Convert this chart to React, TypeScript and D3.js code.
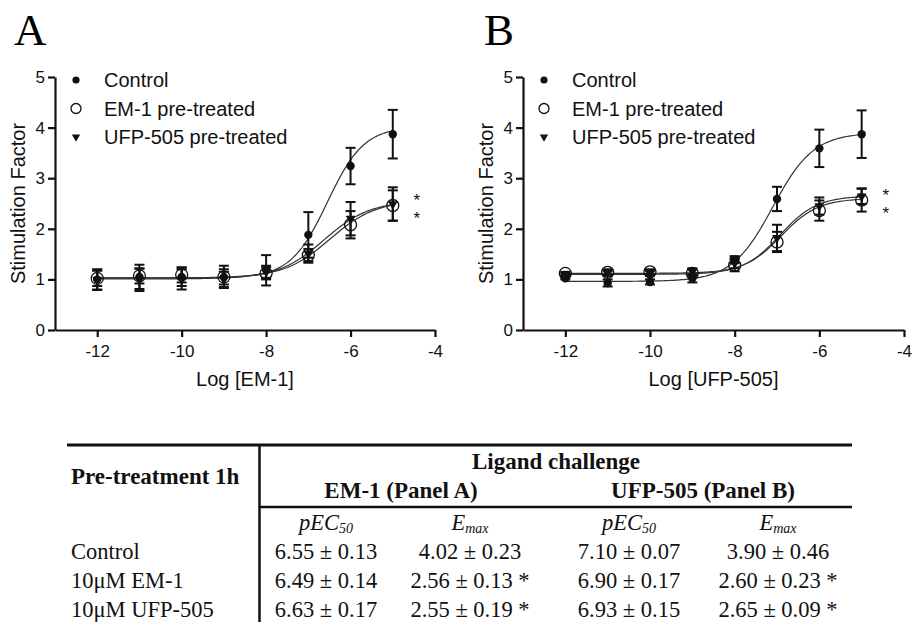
import React, { useRef, useEffect } from 'react';
import * as d3 from 'd3';

const doses = [-12, -11, -10, -9, -8, -7, -6, -5];
const seriesNames = ['Control', 'EM-1 pre-treated', 'UFP-505 pre-treated'];

// Panel A - EM-1 challenge
const aControl = [1.0, 1.05, 1.05, 1.05, 1.18, 1.88, 3.24, 3.87];
const aControlErr = [0.2, 0.24, 0.18, 0.22, 0.3, 0.45, 0.36, 0.48];
const aEm1 = [1.02, 1.07, 1.09, 1.05, 1.12, 1.48, 2.08, 2.46];
const aEm1Err = [0.15, 0.15, 0.15, 0.15, 0.12, 0.12, 0.27, 0.3];
const aUfp = [0.99, 0.99, 1.0, 1.0, 1.15, 1.51, 2.2, 2.49];
const aUfpErr = [0.2, 0.22, 0.2, 0.15, 0.12, 0.18, 0.33, 0.33];
// fitted sigmoid params: control, EM-1, UFP-505
const aBottom = [1.03, 1.03, 1.01];
const aTop = [4.02, 2.56, 2.55];
const aLogEC50 = [-6.55, -6.49, -6.63];
const aHill = [1, 0.8, 0.8];
const aStars = [2.65, 2.29];

// Panel B - UFP-505 challenge
const bControl = [1.02, 0.93, 0.95, 1.02, 1.39, 2.59, 3.59, 3.87];
const bControlErr = [0.02, 0.07, 0.05, 0.08, 0.07, 0.24, 0.37, 0.47];
const bEm1 = [1.12, 1.14, 1.15, 1.12, 1.28, 1.74, 2.36, 2.57];
const bEm1Err = [0.03, 0.06, 0.05, 0.08, 0.12, 0.2, 0.2, 0.23];
const bUfp = [1.1, 1.12, 1.12, 1.15, 1.32, 1.82, 2.45, 2.64];
const bUfpErr = [0.03, 0.05, 0.05, 0.07, 0.1, 0.26, 0.17, 0.15];
const bBottom = [0.96, 1.12, 1.1];
const bTop = [3.9, 2.6, 2.65];
const bLogEC50 = [-7.1, -6.9, -6.93];
const bHill = [0.9, 1, 1];
const bStars = [2.75, 2.4];

const yTicks = [0, 1, 2, 3, 4, 5];
const xTicks = [-12, -10, -8, -6, -4];

// table
const tableRowLabels = ['Control', '10μM EM-1', '10μM UFP-505'];
const pec50A = ['6.55 ± 0.13', '6.49 ± 0.14', '6.63 ± 0.17'];
const emaxA = ['4.02 ± 0.23', '2.56 ± 0.13 *', '2.55 ± 0.19 *'];
const pec50B = ['7.10 ± 0.07', '6.90 ± 0.17', '6.93 ± 0.15'];
const emaxB = ['3.90 ± 0.46', '2.60 ± 0.23 *', '2.65 ± 0.09 *'];

const SANS = 'Arial, "Liberation Sans", Helvetica, sans-serif';
const SERIF = '"Times New Roman", "Liberation Serif", serif';

const panels = [
  {
    letter: 'A', letterX: 14, left: 55, right: 435, xTitle: 'Log [EM-1]',
    means: [aControl, aEm1, aUfp], errs: [aControlErr, aEm1Err, aUfpErr],
    bottom: aBottom, top: aTop, logEC50: aLogEC50, hill: aHill, stars: aStars,
  },
  {
    letter: 'B', letterX: 484, left: 523, right: 904, xTitle: 'Log [UFP-505]',
    means: [bControl, bEm1, bUfp], errs: [bControlErr, bEm1Err, bUfpErr],
    bottom: bBottom, top: bTop, logEC50: bLogEC50, hill: bHill, stars: bStars,
  },
];

const drawMarker = (g, kind, cx, cy, small) => {
  if (kind === 0) {
    g.append('circle').attr('cx', cx).attr('cy', cy).attr('r', small ? 3.6 : 4.2).attr('fill', '#111');
  } else if (kind === 1) {
    g.append('circle').attr('cx', cx).attr('cy', cy).attr('r', small ? 5 : 6)
      .attr('fill', 'none').attr('stroke', '#111').attr('stroke-width', 1.3);
  } else {
    g.append('path')
      .attr('d', d3.symbol(d3.symbolTriangle, small ? 30 : 42)())
      .attr('transform', 'translate(' + cx + ',' + cy + ') rotate(180)')
      .attr('fill', '#111');
  }
};

const drawPanel = (svg, p) => {
  const x = d3.scaleLinear().domain([-13, -4]).range([p.left, p.right]);
  const y = d3.scaleLinear().domain([0, 5]).range([330, 77]);
  const g = svg.append('g');

  g.append('text')
    .attr('x', p.letterX).attr('y', 45)
    .attr('font-family', SERIF).attr('font-size', 45)
    .text(p.letter);

  // fitted curves
  const xs = d3.range(-12, -4.999, 0.05);
  p.means.forEach((_, i) => {
    const f = lx => p.bottom[i] + (p.top[i] - p.bottom[i]) / (1 + Math.pow(10, (p.logEC50[i] - lx) * p.hill[i]));
    const line = d3.line().x(d => x(d)).y(d => y(f(d)));
    g.append('path').attr('d', line(xs)).attr('fill', 'none')
      .attr('stroke', '#333').attr('stroke-width', 1.2);
  });

  // error bars
  p.means.forEach((m, i) => {
    m.forEach((v, j) => {
      const e = p.errs[i][j];
      const cx = x(doses[j]);
      g.append('line').attr('x1', cx).attr('x2', cx).attr('y1', y(v - e)).attr('y2', y(v + e))
        .attr('stroke', '#111').attr('stroke-width', 2);
      [v - e, v + e].forEach(c => {
        g.append('line').attr('x1', cx - 5).attr('x2', cx + 5).attr('y1', y(c)).attr('y2', y(c))
          .attr('stroke', '#111').attr('stroke-width', 2);
      });
    });
  });

  // markers
  p.means.forEach((m, i) => {
    m.forEach((v, j) => drawMarker(g, i, x(doses[j]), y(v), false));
  });

  // axes
  const yAxis = g.append('g').attr('transform', 'translate(' + p.left + ',0)')
    .call(d3.axisLeft(y).tickValues(yTicks).tickFormat(d3.format('d')).tickSize(7).tickSizeOuter(0).tickPadding(3));
  const xAxis = g.append('g').attr('transform', 'translate(0,330)')
    .call(d3.axisBottom(x).tickValues(xTicks).tickFormat(d => String(d)).tickSize(7).tickSizeOuter(0).tickPadding(8));
  [yAxis, xAxis].forEach(a => {
    a.select('.domain').attr('stroke', '#111').attr('stroke-width', 2.2);
    a.selectAll('.tick line').attr('stroke', '#111').attr('stroke-width', 2.2);
    a.selectAll('.tick text').attr('font-family', SANS).attr('font-size', 17).attr('fill', '#111');
  });

  g.append('text')
    .attr('x', (p.left + p.right) / 2).attr('y', 386)
    .attr('text-anchor', 'middle').attr('font-family', SANS).attr('font-size', 20)
    .attr('fill', '#111').text(p.xTitle);
  g.append('text')
    .attr('transform', 'translate(' + (p.left - 30) + ',' + (y(2.5)) + ') rotate(-90)')
    .attr('text-anchor', 'middle').attr('font-family', SANS).attr('font-size', 20)
    .attr('fill', '#111').text('Stimulation Factor');

  // legend
  seriesNames.forEach((name, i) => {
    const cy = 80 + i * 28.5;
    drawMarker(g, i, p.left + 21, cy, true);
    g.append('text').attr('x', p.left + 49).attr('y', cy + 7)
      .attr('font-family', SANS).attr('font-size', 20).attr('fill', '#111').text(name);
  });

  // significance
  p.stars.forEach(s => {
    g.append('text').attr('x', x(-4.43)).attr('y', y(s) + 10)
      .attr('text-anchor', 'middle').attr('font-family', SANS).attr('font-size', 17)
      .attr('fill', '#111').text('*');
  });
};

const drawTable = svg => {
  const g = svg.append('g').attr('font-family', SERIF).attr('fill', '#111');
  const colX = [326, 470, 629, 778];
  const rowY = [559, 588, 617];

  g.append('line').attr('x1', 67).attr('x2', 852).attr('y1', 445).attr('y2', 445)
    .attr('stroke', '#111').attr('stroke-width', 3);
  g.append('line').attr('x1', 259.5).attr('x2', 259.5).attr('y1', 445).attr('y2', 622)
    .attr('stroke', '#111').attr('stroke-width', 2.5);
  g.append('line').attr('x1', 259.5).attr('x2', 852).attr('y1', 507).attr('y2', 507)
    .attr('stroke', '#111').attr('stroke-width', 2.5);

  const bold = (t, xx, yy, anchor) => g.append('text').attr('x', xx).attr('y', yy)
    .attr('text-anchor', anchor).attr('font-weight', 'bold').attr('font-size', 23).text(t);
  bold('Pre-treatment 1h', 71, 484, 'start');
  bold('Ligand challenge', 556, 469, 'middle');
  bold('EM-1 (Panel A)', 401, 498, 'middle');
  bold('UFP-505 (Panel B)', 703, 498, 'middle');

  colX.forEach((cx, i) => {
    const t = g.append('text').attr('x', cx).attr('y', 530).attr('text-anchor', 'middle')
      .attr('font-style', 'italic').attr('font-size', 22.5);
    const isPec = i % 2 === 0;
    t.append('tspan').text(isPec ? 'pEC' : 'E');
    t.append('tspan').attr('font-size', 14).attr('dy', 3).text(isPec ? '50' : 'max');
  });

  tableRowLabels.forEach((lab, r) => {
    g.append('text').attr('x', 71).attr('y', rowY[r]).attr('font-size', 22.5).text(lab);
    [pec50A, emaxA, pec50B, emaxB].forEach((col, c) => {
      g.append('text').attr('x', colX[c]).attr('y', rowY[r]).attr('text-anchor', 'middle')
        .attr('font-size', 22.5).text(col[r]);
    });
  });
};

const App = () => {
  const chartRef = useRef(null);

  useEffect(() => {
    const svg = d3.select(chartRef.current);
    svg.selectAll('*').remove();
    panels.forEach(p => drawPanel(svg, p));
    drawTable(svg);
  }, []);

  return (
    <svg
      ref={chartRef}
      width={914}
      height={622}
      style={{ position: 'absolute', left: 0, top: 0, background: '#fff' }}
    />
  );
};

export default App;
